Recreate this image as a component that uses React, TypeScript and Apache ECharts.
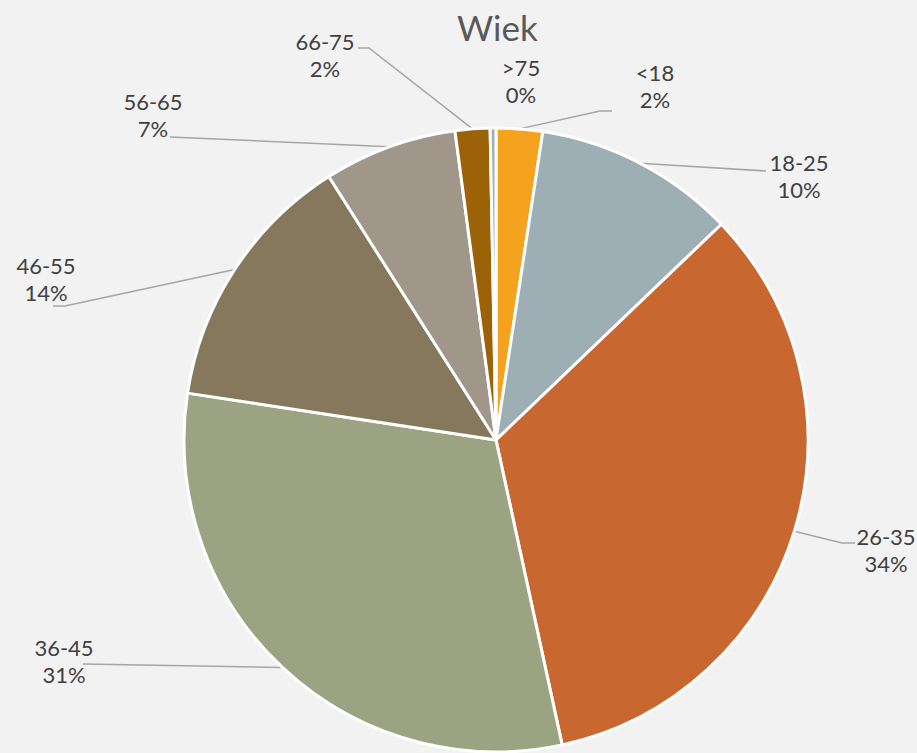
import React, { useEffect, useRef } from 'react';
import * as echarts from 'echarts';

const title = 'Wiek';
const categories = ['<18', '18-25', '26-35', '36-45', '46-55', '56-65', '66-75', '>75'];
const shares = [2.4, 10.45, 33.75, 30.8, 13.6, 6.9, 1.8, 0.3];
const colors = ['#f5a31f', '#9daeb4', '#c96731', '#9ca382', '#85785d', '#a0978a', '#9c6207', '#9fb0b8'];

// label placement (style only): label block centre and leader-line points near the label
const labelPlacement: { x: number; y: number; line: number[][] | null }[] = [
  { x: 655, y: 86, line: [[600, 111], [612, 111]] },
  { x: 799, y: 176, line: [[766, 171]] },
  { x: 886, y: 550, line: [[842, 543], [855, 543]] },
  { x: 64, y: 661, line: [[83, 664]] },
  { x: 46, y: 279, line: [[65, 306], [53, 306]] },
  { x: 153, y: 115, line: [[170, 137]] },
  { x: 325, y: 55, line: [[369, 48], [358, 48]] },
  { x: 521, y: 81, line: null },
];

export default function App() {
  const ref = useRef<HTMLDivElement>(null);
  useEffect(() => {
    document.body.style.margin = '0';
    const chart = echarts.init(ref.current!, undefined, { renderer: 'svg' });
    const data = categories.map((name, i) => ({
      name,
      value: shares[i],
      itemStyle: { color: colors[i] },
      labelLine: { show: labelPlacement[i].line !== null },
    }));
    chart.setOption({
      animation: false,
      backgroundColor: '#f2f2f2',
      title: {
        text: title,
        left: 452,
        top: 4,
        textStyle: { fontFamily: 'Lato', fontSize: 35, fontWeight: 'normal', color: '#595959' },
      },
      series: [
        {
          type: 'pie',
          center: [496, 440],
          radius: 312,
          startAngle: 90,
          clockwise: true,
          avoidLabelOverlap: false,
          data,
          itemStyle: { borderColor: '#ffffff', borderWidth: 3 },
          label: {
            show: true,
            position: 'outside',
            fontFamily: 'Lato',
            fontSize: 22,
            lineHeight: 27,
            color: '#404040',
            align: 'center',
            formatter: (p: any) => `${p.name}\n${Math.round(p.value)}%`,
          },
          labelLine: {
            show: true,
            lineStyle: { color: '#a6a6a6', width: 1.5 },
          },
          labelLayout: (params: any) => {
            const pl = labelPlacement[params.dataIndex];
            const res: any = { x: pl.x, y: pl.y, align: 'center', verticalAlign: 'middle' };
            if (pl.line && params.labelLinePoints && params.labelLinePoints.length) {
              const start = params.labelLinePoints[0];
              const pts = [start, ...pl.line];
              if (pts.length === 2) pts.push(pl.line[0]);
              res.labelLinePoints = pts;
            }
            return res;
          },
        },
      ],
    });
    return () => chart.dispose();
  }, []);
  return (
    <div
      ref={ref}
      style={{ position: 'fixed', left: 0, top: 0, width: 917, height: 753 }}
    />
  );
}
